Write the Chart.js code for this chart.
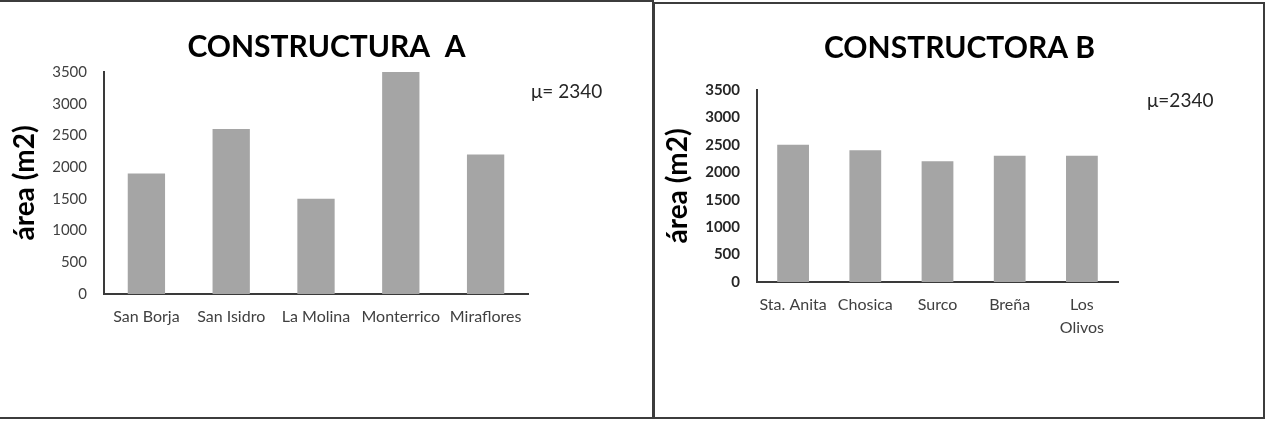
<!DOCTYPE html>
<html>
<head>
<meta charset="utf-8">
<script src="https://cdn.jsdelivr.net/npm/chart.js@4.4.0/dist/chart.umd.min.js"></script>
<style>
  body { margin: 0; background: #fff; width: 1270px; height: 421px; overflow: hidden; position: relative; }
  .marco { position: absolute; box-sizing: border-box; border: 2px solid #3c3c3c; }
  #marcoA { left: -4px; top: 0; width: 658px; height: 419px; }
  #marcoB { left: 653px; top: 2px; width: 612px; height: 417px; }
  canvas { position: absolute; top: 0; }
  #chartA { left: 0; }
  #chartB { left: 655px; }
</style>
</head>
<body>
<div class="marco" id="marcoA"></div>
<div class="marco" id="marcoB"></div>
<canvas id="chartA" width="653" height="421"></canvas>
<canvas id="chartB" width="609" height="421"></canvas>
<script>
// datos
const distritosA = ['San Borja', 'San Isidro', 'La Molina', 'Monterrico', 'Miraflores'];
const areaA = [1900, 2600, 1500, 3500, 2200];
const distritosB = ['Sta. Anita', 'Chosica', 'Surco', 'Breña', ['Los', 'Olivos']];
const areaB = [2500, 2400, 2200, 2300, 2300];
const ejeYMax = 3500;
const ejeYPaso = 500;
const tituloA = 'CONSTRUCTURA  A';
const tituloB = 'CONSTRUCTORA B';
const tituloEjeY = 'área (m2)';
const mediaA = 'μ= 2340';
const mediaB = 'μ=2340';

const FONT = 'Lato';
const GRIS_BARRA = '#a5a5a5';

// texto de la media a la derecha del area del grafico
const notaMedia = {
  id: 'notaMedia',
  afterDraw(chart, args, opts) {
    const ctx = chart.ctx;
    const area = chart.chartArea;
    ctx.save();
    ctx.font = '19px ' + FONT;
    ctx.fillStyle = '#262626';
    ctx.textBaseline = 'middle';
    ctx.textAlign = 'left';
    ctx.fillText(opts.text, area.right + opts.dx, area.top + opts.dy);
    ctx.restore();
  }
};

function makeChart(id, cfg) {
  const ctx = document.getElementById(id).getContext('2d');
  return new Chart(ctx, {
    type: 'bar',
    data: {
      labels: cfg.labels,
      datasets: [{
        data: cfg.values,
        backgroundColor: GRIS_BARRA,
        borderWidth: 0,
        barPercentage: 0.44,
        categoryPercentage: 1,
        yAxisID: 'y'
      }]
    },
    options: {
      responsive: false,
      animation: false,
      devicePixelRatio: 1,
      layout: { padding: 0 },
      plugins: {
        legend: { display: false },
        tooltip: { enabled: false },
        title: {
          display: true,
          text: cfg.title,
          color: '#000',
          font: { family: FONT, size: 30, weight: 'bold', lineHeight: 1.2 },
          padding: cfg.titlePad
        },
        notaMedia: cfg.nota
      },
      scales: {
        x: {
          grid: { display: false, drawTicks: false },
          border: { color: '#3a3a3a', width: 2 },
          ticks: {
            color: '#404040',
            padding: cfg.xPad,
            maxRotation: 0,
            autoSkip: false,
            font: { family: FONT, size: cfg.xFont, lineHeight: cfg.xLine }
          },
          afterFit(s) { s.height = cfg.xHeight; }
        },
        y: {
          min: 0,
          max: ejeYMax,
          grid: { display: false, drawTicks: false },
          border: { color: '#3a3a3a', width: 2 },
          ticks: {
            stepSize: ejeYPaso,
            color: cfg.yColor,
            padding: 17,
            font: { family: FONT, size: 15, weight: cfg.yWeight },
            callback: (v) => String(v)
          },
          title: {
            display: true,
            text: tituloEjeY,
            color: '#000',
            font: { family: FONT, size: 28, weight: 'bold', lineHeight: 1.2 },
            padding: { top: cfg.yTitlePad, bottom: 0 }
          },
          afterFit(s) { s.width = cfg.yWidth; }
        },
        hueco: {
          type: 'linear',
          position: 'right',
          grid: { display: false, drawTicks: false },
          border: { display: false },
          ticks: { display: false },
          afterFit(s) { s.width = cfg.rightWidth; }
        }
      }
    },
    plugins: [notaMedia]
  });
}

makeChart('chartA', {
  labels: distritosA,
  values: areaA,
  title: tituloA,
  titlePad: { top: 29, bottom: 7 },
  nota: { text: mediaA, dx: 3, dy: 20 },
  xPad: 13.4,
  xFont: 16,
  xLine: 1.2,
  xHeight: 127,
  yColor: '#404040',
  yWeight: 'normal',
  yTitlePad: 8,
  yWidth: 104,
  rightWidth: 125
});

makeChart('chartB', {
  labels: distritosB,
  values: areaB,
  title: tituloB,
  titlePad: { top: 30.5, bottom: 23.5 },
  nota: { text: mediaB, dx: 29, dy: 11 },
  xPad: 11.5,
  xFont: 16,
  xLine: 1.45,
  xHeight: 139,
  yColor: '#262626',
  yWeight: 'bold',
  yTitlePad: 6,
  yWidth: 102,
  rightWidth: 146
});
</script>
</body>
</html>
